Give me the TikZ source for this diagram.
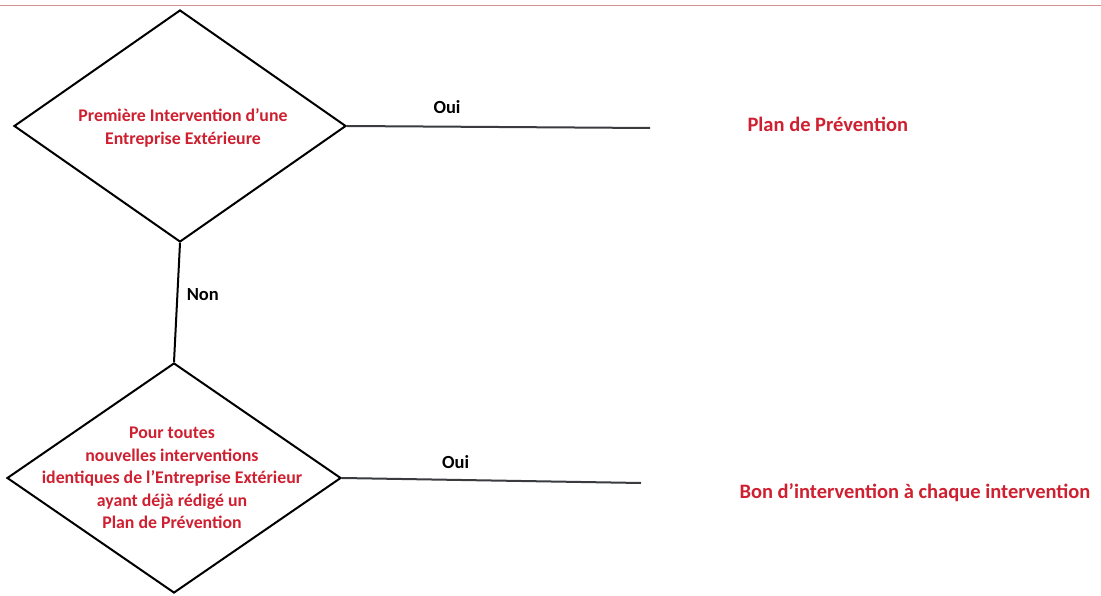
\documentclass[tikz,border=0pt]{standalone}
\usepackage{fontspec}
\setmainfont{Carlito}
\usepackage{xcolor}
\usepackage{tikz}
\usetikzlibrary{shapes.geometric}
\definecolor{darkred}{RGB}{206,32,48}

\begin{document}
\begin{tikzpicture}[x=1pt,y=-1pt,
  decision/.style={diamond,draw=black,line width=2pt,inner sep=0pt},
  question/.style={align=center,font=\bfseries\fontsize{17.8}{22.5}\selectfont,text=darkred},
  answer/.style={font=\bfseries\fontsize{18.5}{20}\selectfont,text=black},
  result/.style={anchor=west,font=\bfseries\fontsize{20.5}{24}\selectfont,text=darkred}]

\useasboundingbox (0,0) rectangle (1101,596);

% header rule
\draw[red!45!gray!60,line width=1pt] (0,6) -- (1101,6);

% decisions
\node[decision,minimum width=332pt,minimum height=232pt] (first_visit) at (180,126) {};
\node[question] (first_text) at (183,128) {Première Intervention d'une\\Entreprise Extérieure};
\node[decision,minimum width=334pt,minimum height=230pt] (same_visit) at (174,478) {};
\node[question] (same_text) at (172,478)
  {Pour toutes\\nouvelles interventions\\identiques de l'Entreprise Extérieur\\ayant déjà rédigé un\\Plan de Prévention};

% results
\node[result] (plan_text) at (744,124) {Plan de Prévention};
\node[result] (bon_text) at (736,493) {Bon d'intervention à chaque intervention};

\coordinate (oui_end_a) at (650,128);
\coordinate (oui_end_b) at (641,483);

\draw[line width=2pt,black!80!cyan!70!black] (first_visit.east) -- node[answer,above=9pt,pos=0.33]{Oui} (oui_end_a);
\draw[line width=2pt,black!80!cyan!70!black] (same_visit.east) -- node[answer,above=7pt,pos=0.38]{Oui} (oui_end_b);
\draw[line width=2pt] (first_visit.south) -- node[answer,right=5pt,pos=0.43]{Non} (same_visit.north);
\end{tikzpicture}
\end{document}
